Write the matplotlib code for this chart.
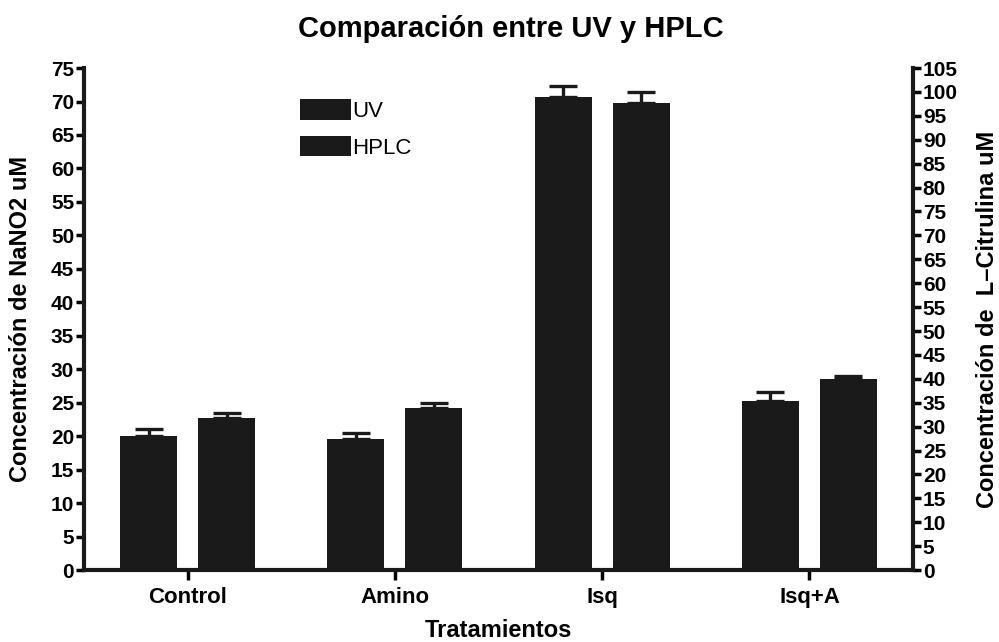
import numpy as np
import matplotlib
matplotlib.use('Agg')
from matplotlib import pyplot as plt

plt.rcParams['font.family'] = ['Liberation Sans', 'DejaVu Sans']
plt.rcParams['font.weight'] = 'bold'

# Mean concentrations (NaNO2 uM) and upper error per treatment
treatments = ['Control', 'Amino', 'Isq', 'Isq+A']
uv_values = [20.0, 19.6, 70.7, 25.3]
uv_errors = [1.1, 0.9, 1.6, 1.3]
hplc_values = [22.7, 24.2, 69.8, 28.5]
hplc_errors = [0.8, 0.8, 1.6, 0.5]

left_ticks = list(range(0, 80, 5))
right_ticks = list(range(0, 110, 5))

fig = plt.figure(figsize=(9.99, 6.42), dpi=100)
ax = fig.add_axes([0.084, 0.112, 0.83, 0.782])

x = np.arange(len(treatments))
width = 0.276
offset = 0.188
bar_color = '#1a1a1a'

ax.bar(x - offset, uv_values, width, color=bar_color, label='UV', zorder=2)
ax.bar(x + offset, hplc_values, width, color=bar_color, label='HPLC', zorder=2)

for xs, vals, errs in ((x - offset, uv_values, uv_errors), (x + offset, hplc_values, hplc_errors)):
    ax.errorbar(xs, vals, yerr=[np.zeros(len(errs)), errs], fmt='none',
                ecolor=bar_color, elinewidth=2.4, capsize=10, capthick=2.4, zorder=3)

ax.set_xlim(-0.5, 3.5)
ax.set_ylim(0, 75)
ax.set_yticks(left_ticks)
ax.set_xticks(x)
ax.set_xticklabels(treatments, fontsize=16, fontweight='bold')
ax.tick_params(axis='y', labelsize=15, length=6, width=2.5, pad=1, direction='out')
ax.tick_params(axis='x', length=7, width=2.5, pad=5)

for side in ('top', 'right'):
    ax.spines[side].set_visible(False)
for side in ('left', 'bottom'):
    ax.spines[side].set_linewidth(3)
    ax.spines[side].set_color(bar_color)

ax.set_ylabel('Concentración de NaNO2 uM', fontsize=17, fontweight='bold', va='center')
ax.yaxis.set_label_coords(-0.077, 0.5)
ax.set_xlabel('Tratamientos', fontsize=17, fontweight='bold')
ax.xaxis.set_label_coords(0.5, -0.098)

ax2 = ax.twinx()
ax2.set_ylim(0, 105)
ax2.set_yticks(right_ticks)
ax2.tick_params(axis='y', labelsize=15, length=6, width=2.5, pad=1, direction='out')
for side in ('top', 'left', 'bottom'):
    ax2.spines[side].set_visible(False)
ax2.spines['right'].set_linewidth(3)
ax2.spines['right'].set_color(bar_color)
ax2.set_ylabel('Concentración de  L\u2013Citrulina uM', fontsize=17, fontweight='bold',
               va='center')
ax2.yaxis.set_label_coords(1.09, 0.5)

ax.legend(loc='upper left', bbox_to_anchor=(0.261, 0.938), frameon=False,
          handlelength=2.3, handleheight=1.05, handletextpad=0.05,
          labelspacing=0.62, borderpad=0, borderaxespad=0,
          prop={'weight': 'normal', 'size': 16})

fig.text(0.511, 0.955, 'Comparación entre UV y HPLC', fontsize=21, fontweight='bold',
         ha='center', va='center')

fig.savefig('out.png', dpi=100)
